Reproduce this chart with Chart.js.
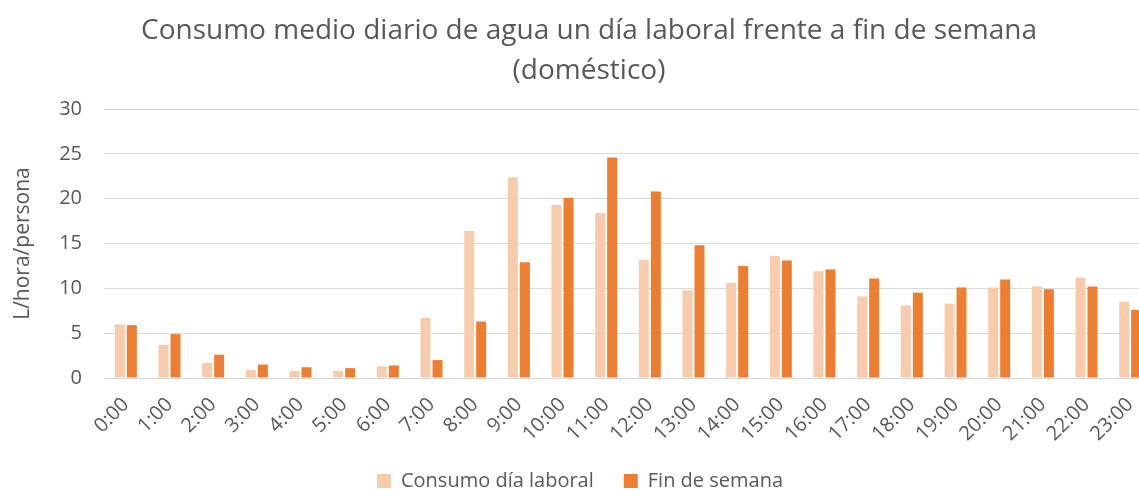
<!DOCTYPE html>
<html>
<head>
<meta charset="utf-8">
<script src="https://cdn.jsdelivr.net/npm/chart.js@4"></script>
<style>
  html, body { margin: 0; padding: 0; background: #fff; overflow: hidden; }
  #wrap { width: 1152px; height: 501px; }
</style>
</head>
<body>
<div id="wrap"><canvas id="chart"></canvas></div>
<script>
const horas = ['0:00', '1:00', '2:00', '3:00', '4:00', '5:00', '6:00', '7:00', '8:00', '9:00', '10:00', '11:00',
    '12:00', '13:00', '14:00', '15:00', '16:00', '17:00', '18:00', '19:00', '20:00', '21:00', '22:00', '23:00'];
const consumoLaboral = [6.0, 3.7, 1.7, 0.9, 0.8, 0.8, 1.3, 6.7, 16.4, 22.4, 19.3, 18.4,
    13.2, 9.8, 10.6, 13.6, 11.9, 9.1, 8.1, 8.3, 10.1, 10.2, 11.2, 8.5];
const finSemana = [5.9, 4.9, 2.6, 1.5, 1.2, 1.1, 1.4, 2.0, 6.3, 12.9, 20.1, 24.6,
    20.8, 14.8, 12.5, 13.1, 12.1, 11.1, 9.5, 10.1, 11.0, 9.9, 10.2, 7.6];
const yTicks = [0, 5, 10, 15, 20, 25, 30];

const textColor = '#595959';
const fontFamily = "'Open Sans', sans-serif";

// moves title / legend a bit so they sit where the original ones are
const shiftBlocks = {
    id: 'shiftBlocks',
    afterLayout(chart) {
        if (chart.titleBlock) {
            chart.titleBlock.left += 26;
        }
        if (chart.legend) {
            chart.legend.left += 4;
            chart.legend.right += 4;
        }
    }
};

new Chart(document.getElementById('chart'), {
    type: 'bar',
    data: {
        labels: horas,
        datasets: [
            {
                label: 'Consumo día laboral',
                data: consumoLaboral,
                backgroundColor: '#F8CBAD',
                categoryPercentage: 0.55,
                barPercentage: 0.83,
            },
            {
                label: 'Fin de semana',
                data: finSemana,
                backgroundColor: '#ED7D31',
                categoryPercentage: 0.55,
                barPercentage: 0.83,
            },
        ],
    },
    options: {
        responsive: true,
        maintainAspectRatio: false,
        animation: false,
        layout: { padding: 0 },
        plugins: {
            title: {
                display: true,
                text: ['Consumo medio diario de agua un día laboral frente a fin de semana', '(doméstico)'],
                color: textColor,
                font: { family: fontFamily, size: 28, weight: 'normal', lineHeight: 1.43 },
                padding: { top: 11, bottom: 18 },
            },
            legend: {
                position: 'bottom',
                labels: {
                    color: textColor,
                    font: { family: fontFamily, size: 20 },
                    boxWidth: 14,
                    boxHeight: 14,
                    padding: 30,
                },
            },
            tooltip: { enabled: false },
        },
        scales: {
            x: {
                afterFit(scale) {
                    scale.height = 63;
                    scale.paddingLeft = 0;
                    scale.paddingRight = 0;
                },
                grid: { display: false, drawTicks: false },
                border: { display: true, color: '#D9D9D9' },
                ticks: {
                    color: textColor,
                    font: { family: fontFamily, size: 20 },
                    maxRotation: 45,
                    minRotation: 45,
                    autoSkip: false,
                    padding: 15,
                },
            },
            y: {
                min: 0,
                max: 30,
                afterBuildTicks(scale) {
                    scale.ticks = yTicks.map(v => ({ value: v }));
                },
                afterFit(scale) {
                    scale.width = 104;
                },
                grid: { color: '#D9D9D9', lineWidth: 1, drawTicks: false },
                border: { display: false },
                ticks: {
                    color: textColor,
                    font: { family: fontFamily, size: 20 },
                    padding: 22,
                },
                title: {
                    display: true,
                    text: 'L/hora/persona',
                    color: textColor,
                    font: { family: fontFamily, size: 21 },
                    padding: { top: 10, bottom: 0 },
                },
            },
        },
    },
    plugins: [shiftBlocks],
});
</script>
</body>
</html>
